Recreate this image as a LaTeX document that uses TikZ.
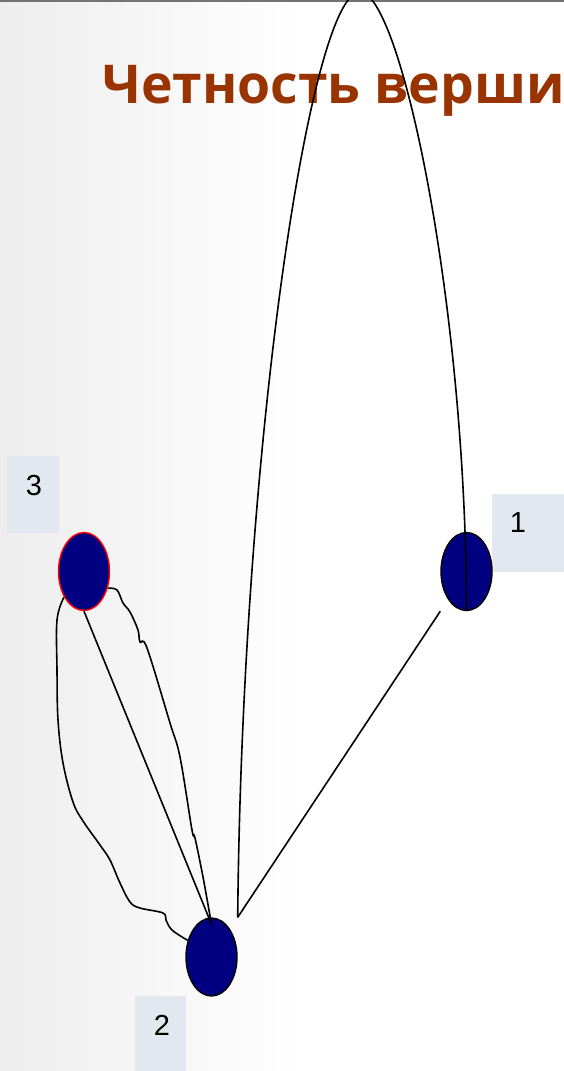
\documentclass[tikz,border=0pt]{standalone}
\usepackage{fontspec}
\setmainfont{Liberation Sans}
\newfontfamily\titlefont{Open Sans}
\usetikzlibrary{shapes.geometric,calc}
\definecolor{vertexblue}{RGB}{0,0,128}
\definecolor{titlebrown}{RGB}{153,51,0}
\definecolor{labelgray}{RGB}{227,232,240}

\begin{document}
\begin{tikzpicture}[x=1pt, y=-1pt,
    vertex/.style={ellipse, draw=black, line width=1.4pt, fill=vertexblue,
      minimum width=51pt, minimum height=78pt, inner sep=0pt},
    edge/.style={line width=1.6pt, black},
    labelbox/.style={anchor=north west, fill=labelgray, inner sep=0pt},
    number/.style={font=\fontsize{29}{34}\selectfont, inner sep=0pt}]

  \useasboundingbox (0,0) rectangle (564,1071);
  \clip (0,0) rectangle (564,1071);

  %% ===== BACKGROUND AND TITLE =====
  \shade[left color=black!7, right color=white] (0,0) rectangle (300,1071);
  \draw[black!55, line width=1.2pt] (0,1) -- (564,1);

  \node[anchor=base west, inner sep=0pt, text=titlebrown,
    font=\titlefont\bfseries\fontsize{53.5}{58}\selectfont] (title) at (102,103) {Четность вершин};

  %% ===== VERTEX LABELS =====
  \node[labelbox, minimum width=52pt, minimum height=77pt] (b3) at (7,456) {};
  \node[number] (n3) at ($(b3.north west)+(27,30)$) {3};

  \node[labelbox, minimum width=76pt, minimum height=78pt] (b1) at (492,494) {};
  \node[number] (n1) at ($(b1.north west)+(26,29)$) {1};

  \node[labelbox, minimum width=51pt, minimum height=76pt] (b2) at (135,996) {};
  \node[number] (n2) at ($(b2.north west)+(27,29)$) {2};

  %% ===== VERTICES =====
  \node[vertex, draw=red] (v3) at (84,571.5) {};
  \node[vertex] (v1) at (466.5,571.5) {};
  \node[vertex] (v2) at (211.5,957) {};

  % Attachment points on vertex 2 and vertex 1
  \coordinate (v2hub) at ($(v2.north)+(0,7)$);
  \coordinate (v2corner) at (v2.east |- v2.north);
  \coordinate (v1corner) at (v1.west |- v1.south);

  %% ===== EDGES =====
  % Big loop over the top: 2 -> 1
  \draw[edge] (v2corner) .. controls (242,450) and (310,-8) .. (360,-8)
    .. controls (400,-8) and (466,300) .. (v1.south);

  % Straight edges
  \draw[edge] (v1corner) -- (v2corner);
  \draw[edge] (v3.south) -- (v2hub);

  % Hand-drawn edges between 3 and 2
  \draw[edge] plot[smooth, tension=0.6] coordinates {(v3.-35) (117,590) (123,603)
    (130,612) (138,630) (140,642) (147,648) (170,723) (180,757) (192,830)
    (195,838) (203,877) (v2hub)};
  \draw[edge] plot[smooth, tension=0.6] coordinates {(v3.232) (57,620) (57,670)
    (58,720) (63,763) (73,802) (83,821) (100,845) (110,860) (120,883)
    (130,902) (140,908) (163,913) (166,920) (172,930) (v2.145)};

\end{tikzpicture}
\end{document}
